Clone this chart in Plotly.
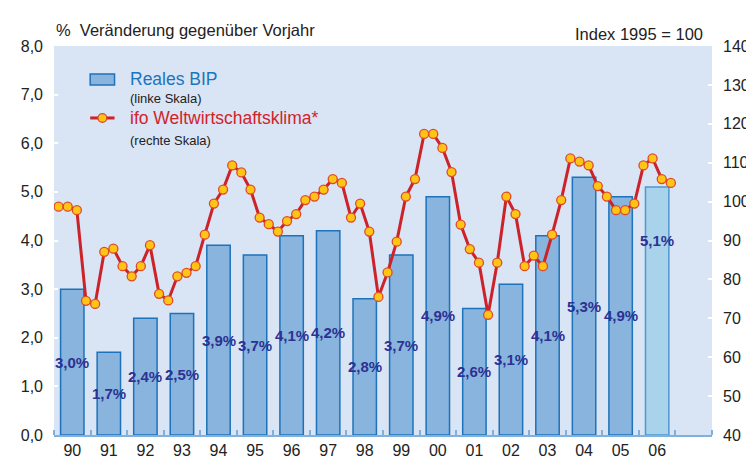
import plotly.graph_objects as go

# ---------------- data ----------------
years = ["90", "91", "92", "93", "94", "95", "96", "97", "98", "99",
         "00", "01", "02", "03", "04", "05", "06"]
gdp = [3.0, 1.7, 2.4, 2.5, 3.9, 3.7, 4.1, 4.2, 2.8, 3.7,
       4.9, 2.6, 3.1, 4.1, 5.3, 4.9, 5.1]
gdp_labels = ["3,0%", "1,7%", "2,4%", "2,5%", "3,9%", "3,7%", "4,1%", "4,2%", "2,8%", "3,7%",
              "4,9%", "2,6%", "3,1%", "4,1%", "5,3%", "4,9%", "5,1%"]
# ifo world economic climate, quarterly (Index 1995 = 100), 1990Q1 .. 2006Q4
ifo = [98.7, 98.7, 97.8, 74.5,
       73.7, 87.1, 87.9, 83.4,
       80.8, 83.4, 88.8, 76.3,
       74.6, 80.8, 81.7, 83.4,
       91.5, 99.5, 103.1, 109.3,
       107.5, 103.1, 95.9, 94.2,
       92.3, 95.0, 96.8, 100.4,
       101.3, 103.1, 105.8, 104.8,
       95.9, 99.5, 92.3, 75.5,
       81.8, 89.7, 101.3, 105.8,
       117.4, 117.4, 113.8, 107.6,
       94.1, 87.8, 84.3, 70.9,
       84.3, 101.3, 96.8, 83.4,
       86.1, 83.4, 91.5, 100.4,
       111.1, 110.3, 109.3, 104.0,
       101.3, 97.8, 97.8, 99.5,
       109.3, 111.1, 105.8, 104.8]
left_ticks = [0, 1, 2, 3, 4, 5, 6, 7, 8]
left_ticktext = ["0,0", "1,0", "2,0", "3,0", "4,0", "5,0", "6,0", "7,0", "8,0"]
right_ticks = [40, 50, 60, 70, 80, 90, 100, 110, 120, 130, 140]

# ---------------- styling ----------------
FONT = "Arial, 'Liberation Sans', sans-serif"
BG = "#d9e4f4"
BAR_FILL = "#88b4de"
BAR_LINE = "#1c72bb"
BAR_FILL_F = "#a9d3ea"
BAR_LINE_F = "#4f97d0"
LINE_COL = "#cc2229"
MARK_FILL = "#ffc515"
MARK_LINE = "#e04a28"
LABEL_COL = "#2e3192"
TXT = "#222222"

n = len(years)
xb = list(range(n))
xq = [i // 4 - 0.375 + 0.25 * (i % 4) for i in range(len(ifo))]

fills = [BAR_FILL] * (n - 1) + [BAR_FILL_F]
lines = [BAR_LINE] * (n - 1) + [BAR_LINE_F]

fig = go.Figure()
fig.add_trace(go.Bar(
    x=xb, y=gdp, width=0.64,
    marker=dict(color=fills, line=dict(color=lines, width=1.5)),
    showlegend=False, hoverinfo="skip",
))
fig.add_trace(go.Scatter(
    x=xq, y=ifo, yaxis="y2", mode="lines+markers",
    line=dict(color=LINE_COL, width=3),
    marker=dict(size=9, color=MARK_FILL, line=dict(color=MARK_LINE, width=1.3)),
    showlegend=False, hoverinfo="skip",
))

# value labels inside the bars
annotations = []
for i, (v, t) in enumerate(zip(gdp, gdp_labels)):
    ly = v / 2 if i < n - 1 else v - 1.1
    annotations.append(dict(
        x=i, y=ly, xref="x", yref="y", text=t, showarrow=False,
        font=dict(family=FONT, size=15, color=LABEL_COL, weight="bold"),
        xanchor="center", yanchor="middle",
    ))

# axis titles
annotations.append(dict(
    x=0.0, y=1.0, xref="paper", yref="paper", yshift=5,
    text="%  Veränderung gegenüber Vorjahr", showarrow=False,
    xanchor="left", yanchor="bottom",
    font=dict(family=FONT, size=16.5, color=TXT),
))
annotations.append(dict(
    x=0.99, y=1.0, xref="paper", yref="paper", yshift=1,
    text="Index 1995 = 100", showarrow=False,
    xanchor="right", yanchor="bottom",
    font=dict(family=FONT, size=16.5, color=TXT),
))

# manual legend
annotations += [
    dict(x=0.113, y=0.915, xref="paper", yref="paper", text="Reales BIP", showarrow=False,
         xanchor="left", yanchor="middle", font=dict(family=FONT, size=17.5, color="#1b75bc")),
    dict(x=0.113, y=0.866, xref="paper", yref="paper", text="(linke Skala)", showarrow=False,
         xanchor="left", yanchor="middle", font=dict(family=FONT, size=13, color=TXT)),
    dict(x=0.113, y=0.815, xref="paper", yref="paper", text="ifo Weltwirtschaftsklima*", showarrow=False,
         xanchor="left", yanchor="middle", font=dict(family=FONT, size=17.5, color="#d2232a")),
    dict(x=0.113, y=0.757, xref="paper", yref="paper", text="(rechte Skala)", showarrow=False,
         xanchor="left", yanchor="middle", font=dict(family=FONT, size=13, color=TXT)),
]
shapes = [
    dict(type="rect", xref="paper", yref="paper", x0=0.055, x1=0.092, y0=0.9, y1=0.928,
         fillcolor=BAR_FILL, line=dict(color=BAR_LINE, width=1.5)),
    dict(type="line", xref="paper", yref="paper", x0=0.055, x1=0.092, y0=0.815, y1=0.815,
         line=dict(color=LINE_COL, width=3)),
    dict(type="circle", xref="paper", yref="paper", x0=0.0668, x1=0.0802, y0=0.804, y1=0.826,
         fillcolor=MARK_FILL, line=dict(color=MARK_LINE, width=1.3)),
]

fig.update_layout(
    width=754, height=463,
    margin=dict(l=46, r=36, t=38, b=26),
    paper_bgcolor="white", plot_bgcolor=BG,
    font=dict(family=FONT, size=15, color=TXT),
    xaxis=dict(
        range=[-0.5, n + 0.5], tickmode="array", tickvals=xb, ticktext=years,
        ticks="", showgrid=False, zeroline=False,
        showline=True, linecolor="#7fb0de", linewidth=2,
        tickfont=dict(family=FONT, size=16, color=TXT),
        minor=dict(tick0=0.5, dtick=1, ticks="inside", ticklen=5, tickwidth=1.5,
                   tickcolor="#7fb0de", showgrid=False),
    ),
    yaxis=dict(
        range=[0, 8], tickmode="array", tickvals=left_ticks, ticktext=left_ticktext,
        ticks="inside", ticklen=4, tickwidth=2, tickcolor="white",
        showgrid=False, zeroline=False, showline=False,
        ticklabelstandoff=10,
        tickfont=dict(family=FONT, size=16, color=TXT),
    ),
    yaxis2=dict(
        range=[40, 140], overlaying="y", side="right",
        tickmode="array", tickvals=right_ticks,
        ticks="inside", ticklen=4, tickwidth=2, tickcolor="white",
        showgrid=False, zeroline=False, showline=False,
        ticklabelstandoff=10,
        tickfont=dict(family=FONT, size=16, color=TXT),
    ),
    annotations=annotations,
    shapes=shapes,
    showlegend=False,
)

fig.write_html("out.html")
